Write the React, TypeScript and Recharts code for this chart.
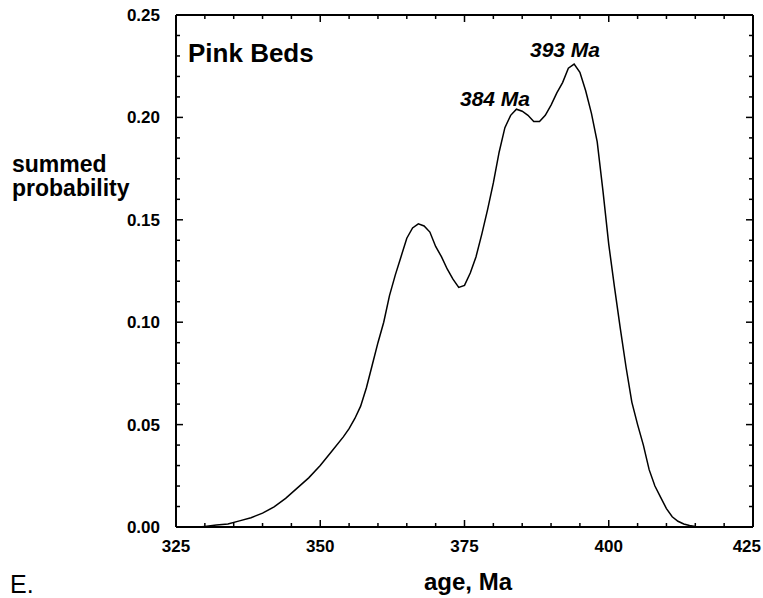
import { LineChart, Line, XAxis, YAxis } from "recharts";

// age (Ma) and summed probability
const ages = [
  325, 329, 330, 332, 334, 336, 338, 340, 342, 344, 346, 348, 350, 352, 354,
  355, 356, 357, 358, 359, 360, 361, 362, 363, 364, 365, 366, 367, 368, 369,
  370, 371, 372, 373, 374, 375, 376, 377, 378, 379, 380, 381, 382, 383, 384,
  385, 386, 387, 388, 389, 390, 391, 392, 393, 394, 395, 396, 397, 398, 399,
  400, 401, 402, 403, 404, 405, 406, 407, 408, 409, 410, 411, 412, 413, 414,
  415, 416, 425,
];
const probability = [
  0, 0, 0.0003, 0.001, 0.0015, 0.003, 0.0045, 0.0068, 0.0098, 0.014, 0.019,
  0.024, 0.03, 0.037, 0.044, 0.048, 0.053, 0.059, 0.068, 0.079, 0.09, 0.1,
  0.113, 0.123, 0.132, 0.141, 0.146, 0.148, 0.147, 0.144, 0.137, 0.132, 0.126,
  0.121, 0.117, 0.118, 0.124, 0.132, 0.143, 0.155, 0.168, 0.183, 0.195, 0.201,
  0.204, 0.203, 0.201, 0.198, 0.198, 0.201, 0.206, 0.212, 0.217, 0.224, 0.226,
  0.222, 0.213, 0.202, 0.188, 0.164, 0.138, 0.117, 0.097, 0.078, 0.061, 0.05,
  0.04, 0.028, 0.02, 0.0145, 0.009, 0.005, 0.0028, 0.0015, 0.0007, 0.0002, 0,
  0,
];

const xTicks = [
  325, 330, 335, 340, 345, 350, 355, 360, 365, 370, 375, 380, 385, 390, 395,
  400, 405, 410, 415, 420, 425,
];
const yTicks = [
  0, 0.01, 0.02, 0.03, 0.04, 0.05, 0.06, 0.07, 0.08, 0.09, 0.1, 0.11, 0.12,
  0.13, 0.14, 0.15, 0.16, 0.17, 0.18, 0.19, 0.2, 0.21, 0.22, 0.23, 0.24, 0.25,
];

const peakLabels = [
  { text: "384 Ma", x: 460, y: 106 },
  { text: "393 Ma", x: 530, y: 57 },
];

const data = ages.map((age, i) => ({ age, p: probability[i] }));

const FONT = '"Liberation Sans", Arial, Helvetica, sans-serif';
const W = 763;
const H = 598;

const isMajorX = (v: number) => v % 25 === 0;
const isMajorY = (v: number) => Math.round(v * 100) % 5 === 0;

const makeTick = (side: "bottom" | "top" | "left" | "right") => (props: any) => {
  const { x, y, payload } = props;
  const v = payload.value;
  const major = side === "bottom" || side === "top" ? isMajorX(v) : isMajorY(v);
  const len = major ? 7 : 4;
  let x2 = x;
  let y2 = y;
  if (side === "bottom") y2 = y - len;
  if (side === "top") y2 = y + len;
  if (side === "left") x2 = x + len;
  if (side === "right") x2 = x - len;
  // keep the last x label inside the page, as in the original
  const atEdge = side === "bottom" && x + 16 > W;
  return (
    <g>
      <line x1={x} y1={y} x2={x2} y2={y2} stroke="#000" strokeWidth={1.5} />
      {major && side === "bottom" && (
        <text
          x={atEdge ? W - 2 : x}
          y={y + 25}
          textAnchor={atEdge ? "end" : "middle"}
          fontSize={17}
          fontWeight="bold"
          fontFamily={FONT}
          fill="#000"
        >
          {v}
        </text>
      )}
      {major && side === "left" && (
        <text x={x - 16} y={y + 6} textAnchor="end" fontSize={17} fontWeight="bold" fontFamily={FONT} fill="#000">
          {v.toFixed(2)}
        </text>
      )}
    </g>
  );
};

const axisLine = { stroke: "#000", strokeWidth: 2 };

export default function App() {
  return (
    <div style={{ position: "absolute", left: 0, top: 0, width: W, height: H, background: "#fff" }}>
      <LineChart
        width={W}
        height={H}
        data={data}
        margin={{ top: 14, right: 9, bottom: 41, left: 116 }}
      >
        <XAxis
          xAxisId="b"
          dataKey="age"
          type="number"
          domain={[325, 425]}
          ticks={xTicks}
          interval={0}
          allowDataOverflow
          height={30}
          tickSize={0}
          tickMargin={0}
          tickLine={false}
          axisLine={axisLine}
          tick={makeTick("bottom")}
        />
        <XAxis
          xAxisId="t"
          dataKey="age"
          orientation="top"
          type="number"
          domain={[325, 425]}
          ticks={xTicks}
          interval={0}
          allowDataOverflow
          height={1}
          tickSize={0}
          tickMargin={0}
          tickLine={false}
          axisLine={axisLine}
          tick={makeTick("top")}
        />
        <YAxis
          yAxisId="l"
          type="number"
          domain={[0, 0.25]}
          ticks={yTicks}
          interval={0}
          allowDataOverflow
          width={60}
          tickSize={0}
          tickMargin={0}
          tickLine={false}
          axisLine={axisLine}
          tick={makeTick("left")}
        />
        <YAxis
          yAxisId="r"
          orientation="right"
          type="number"
          domain={[0, 0.25]}
          ticks={yTicks}
          interval={0}
          allowDataOverflow
          width={1}
          tickSize={0}
          tickMargin={0}
          tickLine={false}
          axisLine={axisLine}
          tick={makeTick("right")}
        />
        <Line
          xAxisId="b"
          yAxisId="l"
          type="linear"
          dataKey="p"
          stroke="#000"
          strokeWidth={1.5}
          dot={false}
          isAnimationActive={false}
        />
      </LineChart>
      <svg
        width={W}
        height={H}
        style={{ position: "absolute", left: 0, top: 0, pointerEvents: "none" }}
        fontFamily={FONT}
      >
        <text x={188} y={62} fontSize={26} fontWeight="bold">Pink Beds</text>
        {peakLabels.map((l) => (
          <text key={l.text} x={l.x} y={l.y} fontSize={21} fontWeight="bold" fontStyle="italic">
            {l.text}
          </text>
        ))}
        <text x={12} y={172} fontSize={23} fontWeight="bold">summed</text>
        <text x={12} y={196} fontSize={23} fontWeight="bold">probability</text>
        <text x={468} y={590} fontSize={24} fontWeight="bold" textAnchor="middle">age, Ma</text>
        <text x={10} y={593} fontSize={25}>E.</text>
      </svg>
    </div>
  );
}
